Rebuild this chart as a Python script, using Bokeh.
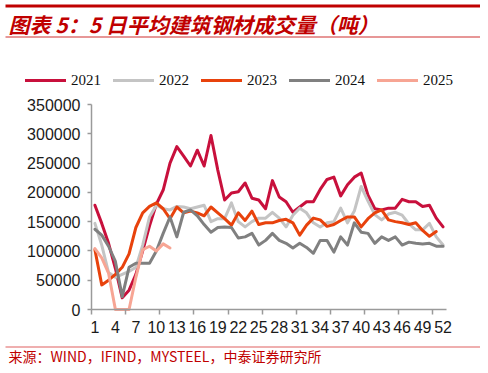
from bokeh.plotting import figure
from bokeh.models import (FixedTicker, Label, BoxAnnotation, Legend, LegendItem,
                          Range1d, BasicTickFormatter)
from bokeh.embed import file_html
from bokeh.resources import INLINE

# ---- data (5-day average construction steel turnover, tonnes) ----
days = list(range(1, 53))
x_labels = list(range(1, 53, 3))
y_ticks = [0, 50000, 100000, 150000, 200000, 250000, 300000, 350000]

v2021 = [178, 147, 113, 70, 20, 33, 60, 100, 143, 180, 204, 250, 278, 262, 245, 272,
         245, 297, 238, 187, 199, 201, 216, 190, 187, 172, 220, 192, 184, 166, 175, 184,
         184, 205, 222, 226, 194, 213, 226, 233, 195, 172, 170, 173, 173, 188, 184, 184,
         176, 178, 156, 141]
v2022 = [147, 110, 63, 55, 60, 65, 72, 110, 158, 178, 172, 170, 176, 175, 172, 175,
         178, 150, 155, 155, 182, 150, 141, 150, 156, 156, 166, 156, 141, 161, 173, 165,
         148, 141, 148, 150, 173, 148, 168, 210, 185, 162, 153, 163, 166, 161, 146, 136,
         136, 147, 124, 110]
v2023 = [102, 42, 50, 60, 72, 95, 140, 165, 176, 182, 172, 155, 175, 165, 168, 165,
         160, 175, 165, 155, 144, 165, 152, 168, 145, 148, 148, 152, 154, 148, 127, 144,
         156, 153, 142, 145, 152, 158, 158, 141, 155, 165, 170, 153, 150, 148, 145, 148,
         135, 125, 133]
v2024 = [137, 127, 108, 82, 22, 72, 79, 79, 79, 100, 130, 158, 124, 166, 170, 160,
         145, 132, 140, 141, 140, 122, 124, 130, 110, 118, 130, 118, 113, 105, 113, 106,
         96, 118, 118, 98, 124, 110, 148, 132, 130, 113, 124, 118, 124, 110, 115, 113,
         112, 113, 108, 108]
v2025 = [104, 88, 62, 0, 0, 0, 55, 102, 108, 100, 112, 105]

series = [
    ("2021", v2021, "#C8103C"),
    ("2022", v2022, "#C4C4C4"),
    ("2023", v2023, "#E8420C"),
    ("2024", v2024, "#808080"),
    ("2025", v2025, "#F7A594"),
]

W, H = 480, 365
AX_L, AX_R = 91.0, 446.0      # x = 0.5 .. 52.5
AX_T, AX_B = 104.0, 309.0     # y = 350000 .. 0
X0, X1 = 0.5, 52.5
Y0, Y1 = 0.0, 350000.0
kx = (X1 - X0) / (AX_R - AX_L)
ky = (Y1 - Y0) / (AX_B - AX_T)
xr = Range1d(X0 - AX_L * kx, X1 + (W - AX_R) * kx)
yr = Range1d(Y0 - (H - AX_B) * ky, Y1 + AX_T * ky)

p = figure(width=W, height=H, output_backend="svg", toolbar_location=None,
           x_range=xr, y_range=yr,
           min_border_left=0, min_border_right=0, min_border_top=0,
           min_border_bottom=0)
p.outline_line_color = None
p.xgrid.visible = False
p.ygrid.visible = False
p.background_fill_color = "white"
p.border_fill_color = "white"

renderers = []
for name, vals, col in series:
    xs = days[:len(vals)]
    ys = [v * 1000 for v in vals]
    r = p.line(xs, ys, line_color=col, line_width=3, line_join="round", line_cap="round")
    renderers.append((name, r))

# axes drawn at fixed data locations inside the frame
ax = p.xaxis[0]
ax.fixed_location = 0
ax.bounds = (X0, X1)
ax.ticker = FixedTicker(ticks=x_labels, minor_ticks=[0.5 + 5 * k for k in range(11)])
ax.major_tick_line_color = None
ax.major_tick_out = 5
ax.major_tick_in = 0
ax.minor_tick_out = 5
ax.minor_tick_in = 0
ax.minor_tick_line_color = "#9a9a9a"
ax.minor_tick_line_width = 1.5
ax.axis_line_color = "#9a9a9a"
ax.axis_line_width = 1.5
ax.major_label_standoff = 6
ax.major_label_text_font = "Liberation Sans"
ax.major_label_text_font_size = "16px"
ax.major_label_text_color = "#1a1a1a"

ay = p.yaxis[0]
ay.fixed_location = X0
ay.bounds = (Y0, Y1)
ay.ticker = FixedTicker(ticks=y_ticks, minor_ticks=[])
ay.formatter = BasicTickFormatter(use_scientific=False)
ay.major_tick_out = 4
ay.major_tick_in = 0
ay.major_tick_line_color = "#9a9a9a"
ay.major_tick_line_width = 1.5
ay.axis_line_color = "#9a9a9a"
ay.axis_line_width = 1.5
ay.major_label_standoff = 7
ay.major_label_text_font = "Liberation Sans"
ay.major_label_text_font_size = "16px"
ay.major_label_text_color = "#1a1a1a"


def sx(px):
    return px


def sy(py):
    return H - py


# legend
legend = Legend(items=[LegendItem(label=n, renderers=[r]) for n, r in renderers],
                orientation="horizontal", location=(sx(25), sy(90)),
                glyph_width=41, glyph_height=20, label_height=20, label_standoff=5,
                spacing=12, padding=0, margin=0, border_line_color=None,
                background_fill_alpha=0, label_text_font="Liberation Serif",
                label_text_font_size="15px", label_text_color="#111111")
p.add_layout(legend)

# header / footer decorations
def hbar(top, bottom, color):
    p.add_layout(BoxAnnotation(left=sx(5), right=sx(480), top=sy(top), bottom=sy(bottom),
                               left_units="screen", right_units="screen",
                               top_units="screen", bottom_units="screen",
                               fill_color=color, fill_alpha=1, line_color=None))

hbar(4, 7, "#C00000")
hbar(36, 37, "#D03030")
hbar(346, 347, "#E06060")

p.add_layout(Label(x=sx(8), y=sy(23.5), x_units="screen", y_units="screen",
                   text="图表 5：5 日平均建筑钢材成交量（吨）",
                   text_font="Noto Sans CJK SC", text_font_size="21px",
                   text_font_style="bold italic", text_color="#C00000",
                   text_baseline="middle", text_align="left"))
p.add_layout(Label(x=sx(8), y=sy(355), x_units="screen", y_units="screen",
                   text="来源：WIND，IFIND，MYSTEEL，中泰证券研究所",
                   text_font="Noto Sans CJK SC", text_font_size="14px",
                   text_color="#C00000", text_baseline="middle", text_align="left"))

open("out.html", "w").write(file_html(p, INLINE))
